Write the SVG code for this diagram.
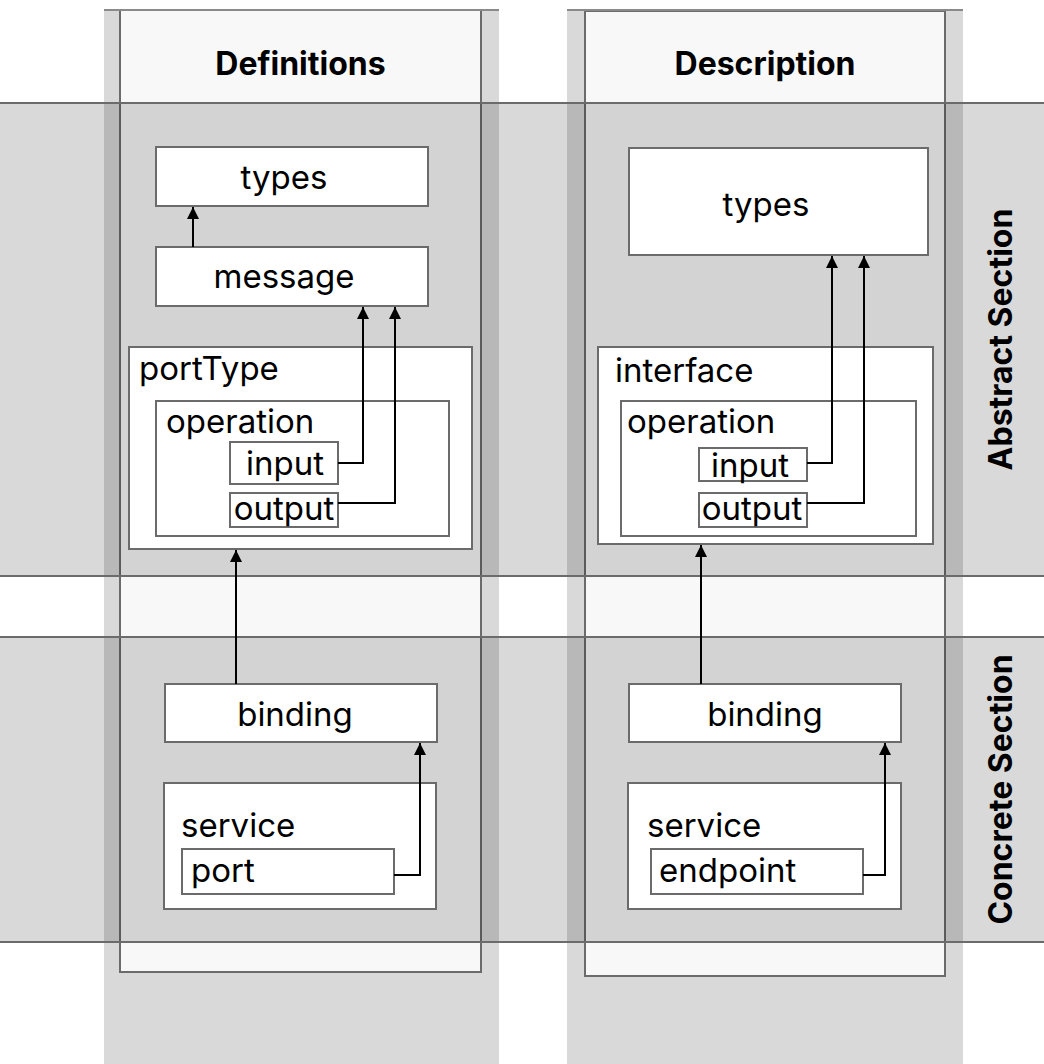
<svg xmlns="http://www.w3.org/2000/svg" width="1044" height="1064" viewBox="0 0 1044 1064">
  <style>
    .band { fill: #d9d9d9; }
    .lane { fill: #f8f8f8; stroke: #6b6b6b; stroke-width: 2; }
    .lane-top { stroke: #8a8a8a; stroke-width: 2; }
    .row { fill: #000; fill-opacity: 0.15; }
    .row-line { stroke: #6b6b6b; stroke-width: 2; }
    .box { fill: #fff; stroke: #6b6b6b; stroke-width: 2; }
    .lbl { font-family: Inter, "Liberation Sans", sans-serif; font-size: 33px; fill: #000; }
    .mid { text-anchor: middle; }
    .head { font-family: Inter, "Liberation Sans", sans-serif; font-size: 32px; font-weight: bold; fill: #000; text-anchor: middle; }
    .conn { fill: none; stroke: #000; stroke-width: 2; }
  </style>
  <defs>
    <marker id="arrow" viewBox="0 0 10 10" refX="10" refY="5" markerWidth="12" markerHeight="12" markerUnits="userSpaceOnUse" orient="auto">
      <path d="M0,0 L10,5 L0,10 z" fill="#000"/>
    </marker>
  </defs>

  <rect width="1044" height="1064" fill="#fff"/>

  <!-- column lanes -->
  <g id="lane-definitions">
    <rect class="band" x="104" y="10" width="395" height="1054"/>
    <rect class="lane" x="120" y="10" width="361" height="962"/>
    <line class="lane-top" x1="104" y1="10" x2="499" y2="10"/>
    <text class="head" x="300.5" y="75">Definitions</text>
  </g>
  <g id="lane-description">
    <rect class="band" x="567" y="10" width="396" height="1054"/>
    <rect class="lane" x="585" y="11" width="360" height="965"/>
    <line class="lane-top" x1="567" y1="10" x2="963" y2="10"/>
    <text class="head" x="765" y="75">Description</text>
  </g>

  <!-- section rows -->
  <g id="row-abstract">
    <rect class="row" x="0" y="103" width="1044" height="473"/>
    <line class="row-line" x1="0" y1="103" x2="1044" y2="103"/>
    <line class="row-line" x1="0" y1="576" x2="1044" y2="576"/>
    <text class="head" transform="translate(1012,339.5) rotate(-90)">Abstract Section</text>
  </g>
  <g id="row-concrete">
    <rect class="row" x="0" y="637" width="1044" height="305"/>
    <line class="row-line" x1="0" y1="637" x2="1044" y2="637"/>
    <line class="row-line" x1="0" y1="942" x2="1044" y2="942"/>
    <text class="head" transform="translate(1012,789.5) rotate(-90)">Concrete Section</text>
  </g>

  <!-- WSDL 1.1 nodes -->
  <g id="d-types">
    <rect class="box" x="156" y="147" width="272" height="59"/>
    <text class="lbl mid" x="284" y="189">types</text>
  </g>
  <g id="d-message">
    <rect class="box" x="156" y="247" width="272" height="59"/>
    <text class="lbl mid" x="284" y="288">message</text>
  </g>
  <g id="d-porttype">
    <rect class="box" x="129" y="347" width="343" height="202"/>
    <text class="lbl" x="139" y="380">portType</text>
  </g>
  <g id="d-operation">
    <rect class="box" x="156" y="401" width="293" height="135"/>
    <text class="lbl" x="166" y="433">operation</text>
  </g>
  <g id="d-input">
    <rect class="box" x="230" y="442" width="108" height="42"/>
    <text class="lbl mid" x="285" y="475">input</text>
  </g>
  <g id="d-output">
    <rect class="box" x="230" y="493" width="108" height="34"/>
    <text class="lbl mid" x="284" y="520">output</text>
  </g>
  <g id="d-binding">
    <rect class="box" x="165" y="684" width="272" height="58"/>
    <text class="lbl mid" x="295" y="726">binding</text>
  </g>
  <g id="d-service">
    <rect class="box" x="164" y="783" width="272" height="126"/>
    <text class="lbl" x="181" y="837">service</text>
  </g>
  <g id="d-port">
    <rect class="box" x="182" y="849" width="212" height="45"/>
    <text class="lbl" x="191" y="882">port</text>
  </g>

  <!-- WSDL 2.0 nodes -->
  <g id="s-types">
    <rect class="box" x="629" y="148" width="299" height="107"/>
    <text class="lbl mid" x="766" y="216">types</text>
  </g>
  <g id="s-interface">
    <rect class="box" x="598" y="347" width="335" height="197"/>
    <text class="lbl" x="615" y="382">interface</text>
  </g>
  <g id="s-operation">
    <rect class="box" x="621" y="401" width="295" height="135"/>
    <text class="lbl" x="627" y="433">operation</text>
  </g>
  <g id="s-input">
    <rect class="box" x="699" y="448" width="108" height="33"/>
    <text class="lbl mid" x="750" y="477">input</text>
  </g>
  <g id="s-output">
    <rect class="box" x="699" y="493" width="108" height="34"/>
    <text class="lbl mid" x="752" y="520">output</text>
  </g>
  <g id="s-binding">
    <rect class="box" x="629" y="684" width="272" height="58"/>
    <text class="lbl mid" x="765" y="726">binding</text>
  </g>
  <g id="s-service">
    <rect class="box" x="628" y="783" width="273" height="126"/>
    <text class="lbl" x="647" y="837">service</text>
  </g>
  <g id="s-endpoint">
    <rect class="box" x="651" y="849" width="212" height="45"/>
    <text class="lbl" x="659" y="882">endpoint</text>
  </g>

  <!-- references -->
  <g id="connectors">
    <path class="conn" d="M193,247 V207" marker-end="url(#arrow)"/>
    <path class="conn" d="M338,463 H363 V307" marker-end="url(#arrow)"/>
    <path class="conn" d="M338,503 H395 V307" marker-end="url(#arrow)"/>
    <path class="conn" d="M236,684 V550" marker-end="url(#arrow)"/>
    <path class="conn" d="M394,875 H420 V743" marker-end="url(#arrow)"/>
    <path class="conn" d="M807,463 H832 V256" marker-end="url(#arrow)"/>
    <path class="conn" d="M807,503 H864 V256" marker-end="url(#arrow)"/>
    <path class="conn" d="M701,684 V545" marker-end="url(#arrow)"/>
    <path class="conn" d="M863,875 H885 V743" marker-end="url(#arrow)"/>
  </g>
</svg>
